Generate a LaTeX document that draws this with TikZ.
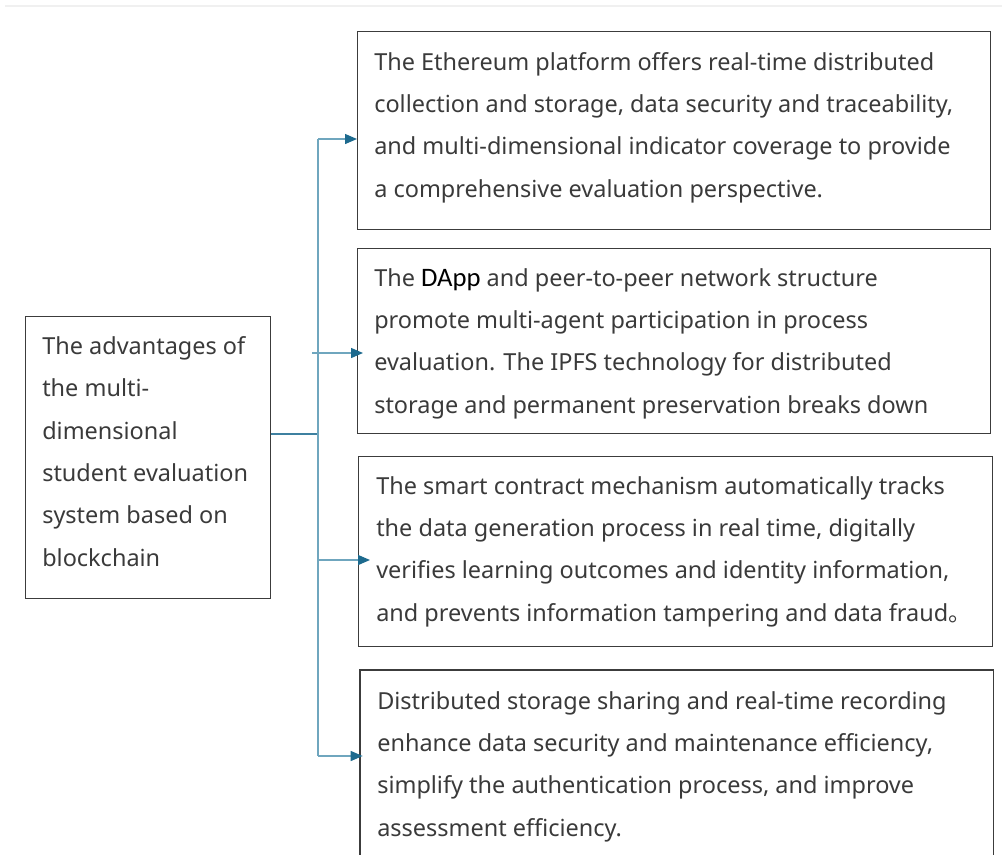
\documentclass[tikz,border=0pt]{standalone}
\usepackage{fontspec}
\setmainfont{Noto Sans}
\newfontfamily\calib{Carlito}
\newfontfamily\cjk{Noto Sans CJK SC}
\usetikzlibrary{arrows.meta}
\definecolor{txtc}{HTML}{3A3A3A}
\definecolor{boxc}{HTML}{3C3C3C}
\definecolor{linec}{HTML}{6FA6BE}
\definecolor{linedark}{HTML}{3E80A0}
\definecolor{tipc}{HTML}{1D6A8E}
\tikzset{
  boxr/.style={draw=boxc, line width=1.1pt, inner sep=0pt},
  txt/.style={text=txtc, inner sep=0pt, align=left, font=\fontsize{17.6}{31.7}\selectfont},
  conn/.style={draw=linec, line width=1pt},
  arr/.style={draw=linec, line width=1pt, -{Triangle[length=9pt,width=7.5pt,color=tipc,fill=tipc]}},
}
\begin{document}
\begin{tikzpicture}[x=0.75pt,y=-0.75pt]
\useasboundingbox (0,0) rectangle (1002,854);
\draw[black!6, line width=0.8pt] (5,6) -- (1002,6);
% boxes
\node[boxr, minimum width=183.75pt, minimum height=211.5pt, anchor=north west] (L) at (25,316) {};
\node[boxr, minimum width=474.75pt, minimum height=148.5pt, anchor=north west] (B1) at (357,31) {};
\node[boxr, minimum width=474.75pt, minimum height=138.75pt, anchor=north west] (B2) at (357,248) {};
\node[boxr, minimum width=475.5pt, minimum height=142.5pt, anchor=north west] (B3) at (358,456) {};
\node[inner sep=0pt, minimum width=474.75pt, minimum height=138pt, anchor=north west] (B4) at (360,670) {};
\draw[boxc, line width=1.1pt] (B4.south west) -- (B4.north west) -- (B4.north east) -- (B4.south east);
% texts (anchor = baseline of last line)
\node[txt, anchor=base west] (tL) at (42,566) {The advantages of\\the multi-\\dimensional\\student evaluation\\system based on\\blockchain};
\node[txt, anchor=base west] (t1) at (374,197) {The Ethereum platform offers real-time distributed\\collection and storage, data security and traceability,\\and multi-dimensional indicator coverage to provide\\a comprehensive evaluation perspective.};
\node[txt, anchor=base west] (t2) at (374,413) {The \textcolor{black}{\calib\fontsize{20}{31.7}\selectfont DApp} and peer-to-peer network structure\\promote multi-agent participation in process\\evaluation. The IPFS technology for distributed\\storage and permanent preservation breaks down};
\node[txt, anchor=base west] (t3) at (376,621) {The smart contract mechanism automatically tracks\\the data generation process in real time, digitally\\verifies learning outcomes and identity information,\\and prevents information tampering and data fraud{\cjk 。}};
\node[txt, anchor=base west] (t4) at (377,836) {Distributed storage sharing and real-time recording\\enhance data security and maintenance efficiency,\\simplify the authentication process, and improve\\assessment efficiency.};
% connectors
\coordinate (J) at (318,434);
\coordinate (V1) at (318,139);
\coordinate (V4) at (318,756);
\coordinate (S2) at (312,353);
\coordinate (S3) at (318,560);
\draw[draw=linedark, line width=1.2pt] (L.east |- J) -- (J);
\draw[conn] (V1) -- (V4);
\draw[arr] (V1) -- (B1.west |- V1);
\draw[arr] (S2) -- ([xshift=4.5pt]B2.west |- S2);
\draw[arr] (S3) -- ([xshift=9pt]B3.west |- S3);
\draw[arr] (V4) -- ([xshift=2pt]B4.west |- V4);
\end{tikzpicture}
\end{document}
